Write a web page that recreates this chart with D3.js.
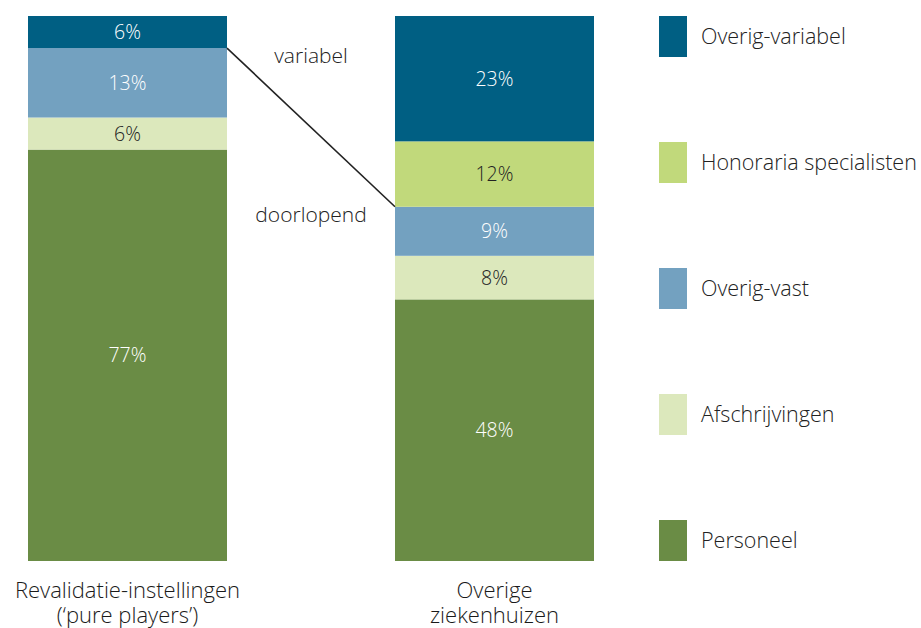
<!DOCTYPE html>
<html>
<head>
<meta charset="utf-8">
<script src="https://cdn.jsdelivr.net/npm/d3@7"></script>
<style>
  body { margin: 0; background: #fff; }
  svg text { font-family: "Open Sans", Lato, sans-serif; font-weight: 300; }
</style>
</head>
<body>
<div id="chart"></div>
<script>
// categories, bottom to top
var categories = ["Personeel", "Afschrijvingen", "Overig-vast", "Honoraria specialisten", "Overig-variabel"]
var colors = ["#6a8c45", "#dce8bc", "#73a1c0", "#c1d97b", "#005f83"]
var textColors = ["#fff", "#222", "#fff", "#222", "#fff"]

var bars = ["Revalidatie-instellingen\n(\u2018pure players\u2019)", "Overige\nziekenhuizen"]
// percentages per bar, same order as categories (0 = not present)
var revalidatie = [77, 6, 13, 0, 6]
var ziekenhuizen = [48, 8, 9, 12, 23]
var seriesValues = [revalidatie, ziekenhuizen]

var width = 921, height = 628

var svg = d3.select("#chart").append("svg")
  .attr("width", width)
  .attr("height", height)

var x = d3.scaleBand()
  .domain(bars)
  .range([28, 594])
  .paddingInner(168 / 367)
  .paddingOuter(0)

var yTop = 16, yBottom = 561

var stacks = seriesValues.map(function (vals, i) {
  var total = d3.sum(vals)
  var y = d3.scaleLinear().domain([0, total]).range([yBottom, yTop])
  var acc = 0
  var segs = vals.map(function (v, j) {
    var s = { bar: bars[i], cat: j, value: v, y0: acc, y1: acc + v }
    acc += v
    return s
  })
  return { bar: bars[i], y: y, segs: segs.filter(function (s) { return s.value > 0 }) }
})

// bars
stacks.forEach(function (st) {
  var g = svg.append("g")
  g.selectAll("rect")
    .data(st.segs)
    .join("rect")
    .attr("x", x(st.bar))
    .attr("width", x.bandwidth())
    .attr("y", d => st.y(d.y1))
    .attr("height", d => st.y(d.y0) - st.y(d.y1))
    .attr("fill", d => colors[d.cat])

  g.selectAll("text")
    .data(st.segs)
    .join("text")
    .attr("x", x(st.bar) + x.bandwidth() / 2)
    .attr("y", d => (st.y(d.y0) + st.y(d.y1)) / 2)
    .attr("dy", "0.36em")
    .attr("text-anchor", "middle")
    .attr("font-size", 19.5)
    .attr("fill", d => textColors[d.cat])
    .text(d => d.value + "%")
})

// connector between variabel / doorlopend parts
var s0 = stacks[0], s1 = stacks[1]
var b0 = s0.segs.find(d => d.cat == 4)
var b1 = s1.segs.find(d => d.cat == 3)
svg.append("line")
  .attr("x1", x(s0.bar) + x.bandwidth())
  .attr("y1", s0.y(b0.y0))
  .attr("x2", x(s1.bar))
  .attr("y2", s1.y(b1.y0))
  .attr("stroke", "#222")
  .attr("stroke-width", 1.6)

var midX = (x(s0.bar) + x.bandwidth() + x(s1.bar)) / 2
svg.append("text")
  .attr("x", midX)
  .attr("y", 63)
  .attr("text-anchor", "middle")
  .attr("font-size", 21)
  .attr("fill", "#222")
  .text("variabel")
svg.append("text")
  .attr("x", midX)
  .attr("y", 222)
  .attr("text-anchor", "middle")
  .attr("font-size", 21)
  .attr("fill", "#222")
  .text("doorlopend")

// bar labels, one text per line
var labelLines = []
bars.forEach(function (b) {
  b.split("\n").forEach(function (line, i) {
    labelLines.push({ bar: b, line: line, i: i })
  })
})
svg.append("g")
  .selectAll("text")
  .data(labelLines)
  .join("text")
  .attr("x", d => x(d.bar) + x.bandwidth() / 2)
  .attr("y", d => 598 + d.i * 25)
  .attr("text-anchor", "middle")
  .attr("font-size", 22)
  .attr("fill", "#1a1a1a")
  .text(d => d.line)

// legend
var legendOrder = categories.map((c, i) => i).reverse()
var ly = d3.scaleBand()
  .domain(legendOrder)
  .range([yTop, yBottom])
  .paddingInner(85 / 126)
  .paddingOuter(0)

var legend = svg.append("g")
  .selectAll("g")
  .data(legendOrder)
  .join("g")
  .attr("transform", d => `translate(659,${ly(d)})`)

legend.append("rect")
  .attr("width", 28)
  .attr("height", ly.bandwidth())
  .attr("fill", d => colors[d])

legend.append("text")
  .attr("x", 42)
  .attr("y", ly.bandwidth() / 2)
  .attr("dy", "0.36em")
  .attr("font-size", 21.5)
  .attr("fill", "#222")
  .text(d => categories[d])
</script>
</body>
</html>
